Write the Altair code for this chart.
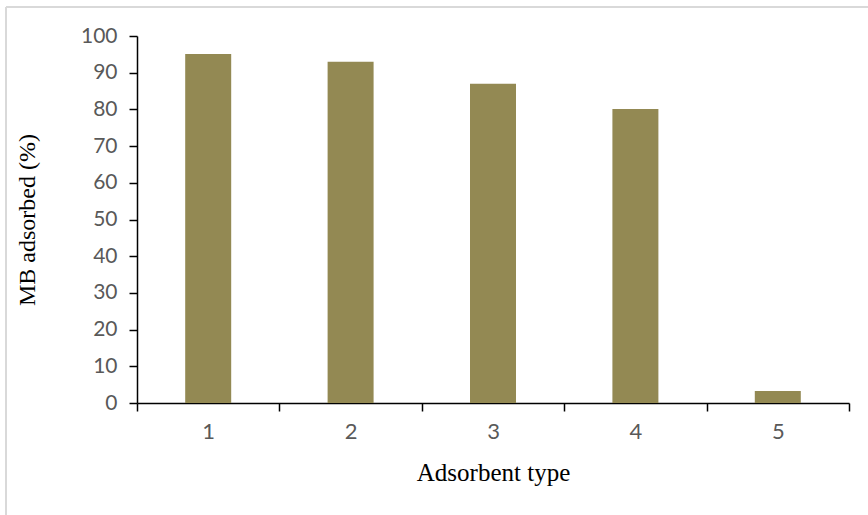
import altair as alt
import pandas as pd

# Percentage of methylene blue adsorbed by each adsorbent type
adsorbent_types = ["1", "2", "3", "4", "5"]
mb_adsorbed = [95.1, 93.0, 87.0, 80.1, 3.3]

df = pd.DataFrame({"type": adsorbent_types, "adsorbed": mb_adsorbed})

title_style = dict(
    titleFont="Liberation Serif",
    titleFontWeight="normal",
    titleColor="black",
)
line_style = dict(
    tickSize=8,
    tickColor="black",
    tickWidth=1.5,
    domainColor="black",
    domainWidth=1.5,
)

bars = (
    alt.Chart(df)
    .mark_bar(color="#938953", width=alt.RelativeBandSize(0.323))
    .encode(
        x=alt.X(
            "type:N",
            sort=adsorbent_types,
            scale=alt.Scale(paddingInner=0, paddingOuter=0),
            axis=alt.Axis(
                title="Adsorbent type",
                labelAngle=0,
                tickBand="extent",
                labelFont="Lato",
                labelFontSize=22,
                labelColor="#595959",
                labelPadding=10,
                titleFontSize=25,
                titlePadding=18,
                **title_style,
                **line_style,
            ),
        ),
        y=alt.Y(
            "adsorbed:Q",
            scale=alt.Scale(domain=[0, 100], nice=False),
            axis=alt.Axis(
                title="MB adsorbed (%)",
                values=list(range(0, 101, 10)),
                grid=False,
                labelFont="Lato",
                labelFontSize=21,
                labelColor="#595959",
                labelPadding=12,
                titleFontSize=24,
                titlePadding=41,
                **title_style,
                **line_style,
            ),
        ),
    )
)

# Light grey frame around the figure (top and left edges)
frame_top = alt.Chart(df).mark_rule(color="#d9d9d9", strokeWidth=2).encode(
    x=alt.value(-131), x2=alt.value(731), y=alt.value(-29)
)
frame_left = alt.Chart(df).mark_rule(color="#d9d9d9", strokeWidth=2).encode(
    x=alt.value(-131), y=alt.value(-29), y2=alt.value(479)
)

chart = (
    alt.layer(bars, frame_top, frame_left)
    .properties(
        width=712,
        height=367,
        autosize=alt.AutoSizeParams(type="none"),
        padding={"left": 137, "top": 36, "right": 19, "bottom": 112},
        background="white",
    )
    .configure_view(stroke=None)
)

chart.save("out.html", embed_options={"renderer": "svg", "actions": False})
